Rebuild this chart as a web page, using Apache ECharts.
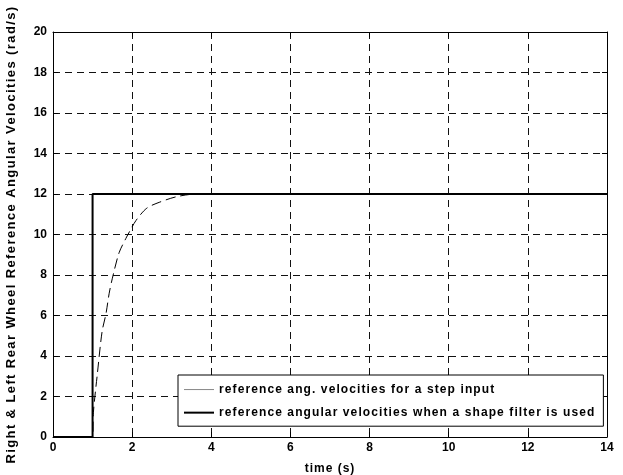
<!DOCTYPE html>
<html>
<head>
<meta charset="utf-8">
<script src="https://cdn.jsdelivr.net/npm/echarts@6/dist/echarts.min.js"></script>
<style>
html,body{margin:0;padding:0;background:#fff;}
#chart{width:623px;height:475px;}
</style>
</head>
<body>
<div id="chart"></div>
<script>
// Data
var seriesNames = [
  'reference ang. velocities for a step input',
  'reference angular velocities when a shape filter is used'
];
var stepTime  = [0, 1.0, 1.02, 1.12, 1.24, 1.34, 1.42, 1.52, 1.67, 1.84, 1.95, 2.10, 2.37, 2.70, 3.13, 3.63, 4.0, 14];
var stepValue = [0, 0,   1.2,  3.1,  5.2,  6.1,  7.1,  8.0,  9.1,  9.8,  10.2, 10.7, 11.3, 11.6, 11.87, 12.0, 12, 12];
var filterTime  = [0, 1, 1, 14];
var filterValue = [0, 0, 12, 12];
var xTicks = [0, 2, 4, 6, 8, 10, 12, 14];
var yTicks = [0, 2, 4, 6, 8, 10, 12, 14, 16, 18, 20];

function pairs(xs, ys){ return xs.map(function(x,i){ return [x, ys[i]]; }); }

// letter spacing for the widely spaced captions (applied in measure and draw alike)
(function(){
  var P = CanvasRenderingContext2D.prototype;
  function setLS(ctx){
    if (!('letterSpacing' in ctx)) return;
    var f = ctx.font || '';
    var m = /spacedX(\d)/.exec(f);
    ctx.letterSpacing = m ? (m[1] === '1' ? '1.1px' : (m[1] === '2' ? '1.4px' : '1px')) : '0px';
  }
  var mt = P.measureText, ft = P.fillText, st = P.strokeText;
  P.measureText = function(t){ setLS(this); return mt.apply(this, arguments); };
  P.fillText = function(){ setLS(this); return ft.apply(this, arguments); };
  P.strokeText = function(){ setLS(this); return st.apply(this, arguments); };
})();

var base = '"Liberation Sans", Arial, sans-serif';
var labelStyle = {color:'#000', fontFamily:base, fontWeight:'bold', fontSize:12};
var legendText = {color:'#000', fontFamily:'"Liberation Sans", spacedX1, Arial, sans-serif', fontWeight:'bold', fontSize:12};
var yNameText = {color:'#000', fontFamily:'"Liberation Sans", spacedX2, Arial, sans-serif', fontWeight:'bold', fontSize:13};
var xNameText = {color:'#000', fontFamily:'"Liberation Sans", spacedX3, Arial, sans-serif', fontWeight:'bold', fontSize:12};
var gridLine = {show:true, lineStyle:{color:'#111', width:1, type:[7,5]}};
var noSymbol = {color:'rgba(0,0,0,0)', borderWidth:0, opacity:0};

var chart = echarts.init(document.getElementById('chart'), null, {renderer:'canvas'});
chart.setOption({
  animation:false,
  backgroundColor:'#fff',
  grid:{left:53, right:16, top:32, bottom:38, show:false, containLabel:false, outerBoundsMode:'none'},
  xAxis:[{
    type:'value', min:xTicks[0], max:xTicks[xTicks.length-1], interval:2,
    name:'time (s)', nameLocation:'middle', nameGap:25,
    nameTextStyle:xNameText,
    axisLine:{show:true, onZero:false, lineStyle:{color:'#000', width:1}},
    axisTick:{show:true, inside:true, length:5, lineStyle:{color:'#000'}},
    axisLabel:Object.assign({margin:5}, labelStyle),
    splitLine:gridLine
  },{
    type:'value', position:'top', min:xTicks[0], max:xTicks[xTicks.length-1], interval:2,
    axisLine:{show:true, onZero:false, lineStyle:{color:'#000', width:1}},
    axisTick:{show:true, inside:true, length:5, lineStyle:{color:'#000'}},
    axisLabel:{show:false}, splitLine:{show:false}
  }],
  yAxis:[{
    type:'value', min:yTicks[0], max:yTicks[yTicks.length-1], interval:2,
    name:'Right & Left Rear Wheel Reference Angular Velocities (rad/s)',
    nameLocation:'middle', nameGap:34,
    nameTextStyle:yNameText,
    axisLine:{show:true, onZero:false, lineStyle:{color:'#000', width:1}},
    axisTick:{show:true, inside:true, length:5, lineStyle:{color:'#000'}},
    axisLabel:Object.assign({margin:6}, labelStyle),
    splitLine:gridLine
  },{
    type:'value', position:'right', min:yTicks[0], max:yTicks[yTicks.length-1], interval:2,
    axisLine:{show:true, onZero:false, lineStyle:{color:'#000', width:1}},
    axisTick:{show:true, inside:true, length:5, lineStyle:{color:'#000'}},
    axisLabel:{show:false}, splitLine:{show:false}
  }],
  legend:{
    orient:'vertical', left:178, top:375,
    padding:[8,8,7,5], itemGap:10, itemWidth:30, itemHeight:14,
    backgroundColor:'#fff', borderColor:'#000', borderWidth:1, borderRadius:0,
    textStyle:legendText,
    data:[
      {name:seriesNames[0], itemStyle:noSymbol, lineStyle:{color:'#888', width:1, type:'solid'}},
      {name:seriesNames[1], itemStyle:noSymbol, lineStyle:{color:'#000', width:2, type:'solid'}}
    ]
  },
  series:[{
    name:seriesNames[0], type:'line', data:pairs(stepTime, stepValue),
    symbol:'none', smooth:0.3,
    lineStyle:{color:'#000', width:1, type:[10,5]}, itemStyle:{color:'#888'},
    z:3
  },{
    name:seriesNames[1], type:'line', data:pairs(filterTime, filterValue),
    symbol:'none', lineStyle:{color:'#000', width:2}, itemStyle:{color:'#000'},
    z:4
  }]
});
</script>
</body>
</html>
